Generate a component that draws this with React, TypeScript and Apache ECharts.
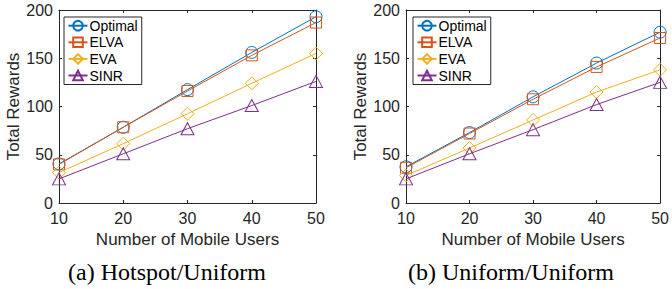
import React, { useEffect, useRef } from "react";
import * as echarts from "echarts";

const users = [10, 20, 30, 40, 50];
const seriesNames = ["Optimal", "ELVA", "EVA", "SINR"];
const colors = ["#0072BD", "#D95319", "#EDB120", "#7E2F8E"];
const symbols = ["circle", "rect", "diamond", "triangle"];
const symbolSizes: (number | number[])[] = [12, 11, [13, 13], [13, 12]];

// (a) Hotspot/Uniform
const hotOptimal = [40.5, 78.5, 117.5, 156, 193];
const hotELVA = [40, 78.5, 116, 153, 187];
const hotEVA = [31.5, 61.5, 92.5, 124, 155];
const hotSINR = [25, 51, 77, 101, 126];

// (b) Uniform/Uniform
const uniOptimal = [37.5, 73, 110, 145, 177];
const uniELVA = [36.5, 72, 107.5, 141, 171];
const uniEVA = [28.5, 57, 86, 115, 138];
const uniSINR = [25, 51, 76, 102, 125];

const captions = ["(a) Hotspot/Uniform", "(b) Uniform/Uniform"];
const xTitle = "Number of Mobile Users";
const yTitle = "Total Rewards";

const ink = "#262626";
const sans = "Liberation Sans, Arial, sans-serif";

export default function App() {
  const ref = useRef<HTMLDivElement>(null);
  useEffect(() => {
    if (!ref.current) return;
    const chart = echarts.init(ref.current, undefined, { renderer: "svg" });
    const grids = [
      { left: 59, right: 356, top: 10, bottom: 86 },
      { left: 406, right: 10, top: 10, bottom: 86 },
    ];
    const xAxes: any[] = [];
    const yAxes: any[] = [];
    grids.forEach((_, gi) => {
      xAxes.push({
        type: "value",
        gridIndex: gi,
        position: "bottom",
        min: 10,
        max: 50,
        interval: 10,
        name: xTitle,
        nameLocation: "middle",
        nameGap: 28,
        nameTextStyle: { color: ink, fontSize: 17, fontFamily: sans },
        axisLine: { show: true, lineStyle: { color: ink, width: 1 } },
        axisTick: { show: true, inside: true, length: 3, lineStyle: { color: ink } },
        axisLabel: { color: ink, fontSize: 16, fontFamily: sans, margin: 7 },
        splitLine: { show: false },
      });
      xAxes.push({
        type: "value",
        gridIndex: gi,
        position: "top",
        min: 10,
        max: 50,
        interval: 10,
        axisLine: { show: true, onZero: false, lineStyle: { color: ink, width: 1 } },
        axisTick: { show: true, inside: true, length: 3, lineStyle: { color: ink } },
        axisLabel: { show: false },
        splitLine: { show: false },
      });
      yAxes.push({
        type: "value",
        gridIndex: gi,
        position: "left",
        min: 0,
        max: 200,
        interval: 50,
        name: yTitle,
        nameLocation: "middle",
        nameGap: 29,
        nameRotate: 90,
        nameTextStyle: { color: ink, fontSize: 17, fontFamily: sans },
        axisLine: { show: true, onZero: false, lineStyle: { color: ink, width: 1 } },
        axisTick: { show: true, inside: true, length: 3, lineStyle: { color: ink } },
        axisLabel: { color: ink, fontSize: 16, fontFamily: sans, margin: 6 },
        splitLine: { show: false },
      });
      yAxes.push({
        type: "value",
        gridIndex: gi,
        position: "right",
        min: 0,
        max: 200,
        interval: 50,
        axisLine: { show: true, onZero: false, lineStyle: { color: ink, width: 1 } },
        axisTick: { show: true, inside: true, length: 3, lineStyle: { color: ink } },
        axisLabel: { show: false },
        splitLine: { show: false },
      });
    });

    const groups = [
      [hotOptimal, hotELVA, hotEVA, hotSINR],
      [uniOptimal, uniELVA, uniEVA, uniSINR],
    ];
    const series: any[] = [];
    groups.forEach((g, gi) => {
      g.forEach((vals, si) => {
        series.push({
          type: "line",
          name: seriesNames[si],
          xAxisIndex: gi * 2,
          yAxisIndex: gi * 2,
          data: users.map((u, i) => [u, vals[i]]),
          symbol: symbols[si],
          symbolSize: symbolSizes[si],
          showAllSymbol: true,
          lineStyle: { color: colors[si], width: 1 },
          itemStyle: { color: "rgba(255,255,255,0)", borderColor: colors[si], borderWidth: 1 },
          z: 2 + si,
        });
      });
    });

    const legendCommon = {
      orient: "vertical",
      top: 17,
      data: seriesNames,
      itemWidth: 19,
      itemHeight: 12,
      itemGap: 2.6,
      padding: [1.7, 4, 2, 3.5],
      borderColor: ink,
      borderWidth: 1,
      backgroundColor: "#fff",
      textStyle: { color: "#000", fontSize: 14, fontFamily: sans, padding: [0, 0, 0, -3] },
      selectedMode: false,
    };

    chart.setOption({
      animation: false,
      grid: grids,
      xAxis: xAxes,
      yAxis: yAxes,
      series,
      legend: [
        { ...legendCommon, left: 64 },
        { ...legendCommon, left: 413 },
      ],
      graphic: [
        {
          type: "text",
          x: 167,
          y: 272,
          style: {
            text: captions[0],
            fill: "#000",
            font: "24px 'Liberation Serif', 'Times New Roman', serif",
            textAlign: "center",
            textVerticalAlign: "middle",
          },
        },
        {
          type: "text",
          x: 511,
          y: 272,
          style: {
            text: captions[1],
            fill: "#000",
            font: "24px 'Liberation Serif', 'Times New Roman', serif",
            textAlign: "center",
            textVerticalAlign: "middle",
          },
        },
      ],
    });
    return () => chart.dispose();
  }, []);
  return (
    <div
      ref={ref}
      style={{ position: "absolute", left: 0, top: 0, width: 672, height: 289 }}
    />
  );
}
